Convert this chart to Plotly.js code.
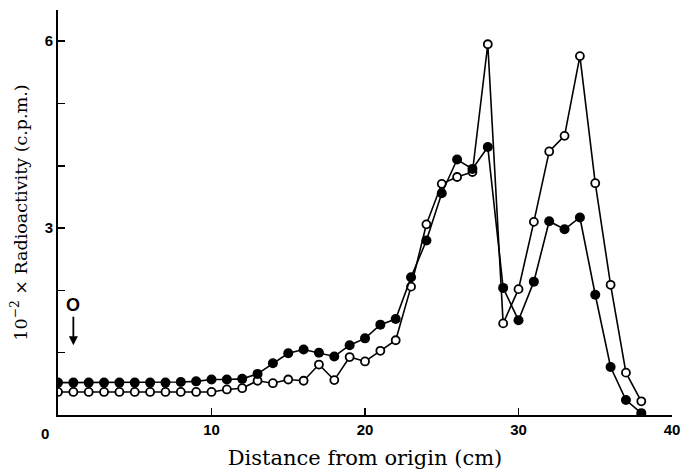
<!DOCTYPE html>
<html>
<head>
<meta charset="utf-8">
<script src="https://cdn.plot.ly/plotly-3.0.1.min.js"></script>
<style>html,body{margin:0;padding:0;background:#fff;}#chart{width:682px;height:472px;}</style>
</head>
<body>
<div id="chart"></div>
<script>
// Distance from origin (cm)
const distance = [0,1,2,3,4,5,6,7,8,9,10,11,12,13,14,15,16,17,18,19,20,21,22,23,24,25,26,27,28,29,30,31,32,33,34,35,36,37,38];
// Closed circles (10^-2 x c.p.m.)
const closedVals = [0.52,0.52,0.52,0.52,0.52,0.52,0.52,0.52,0.53,0.54,0.57,0.57,0.58,0.66,0.83,0.99,1.05,1.0,0.94,1.12,1.23,1.45,1.54,2.21,2.80,3.56,4.10,3.95,4.30,2.04,1.52,2.14,3.11,2.98,3.17,1.93,0.77,0.24,0.03];
// Open circles (10^-2 x c.p.m.)
const openVals = [0.37,0.37,0.37,0.37,0.37,0.37,0.37,0.37,0.37,0.37,0.37,0.41,0.43,0.55,0.51,0.57,0.55,0.81,0.56,0.93,0.86,1.03,1.20,2.06,3.06,3.71,3.82,3.90,5.95,1.47,2.02,3.10,4.23,4.48,5.76,3.72,2.09,0.68,0.22];
const yTickVals = [1,2,3,4,5,6];
const yTickText = [' ',' ','3',' ',' ','6'];
const xTickVals = [10,20,30,40];
const xTickText = ['10','20','30','40'];

const traces = [
  {
    x: distance, y: openVals, type: 'scatter', mode: 'lines+markers',
    line: {color: '#000', width: 1.6},
    marker: {symbol: 'circle', size: 8, color: '#fff', line: {color: '#000', width: 1.8}},
    hoverinfo: 'skip'
  },
  {
    x: distance, y: closedVals, type: 'scatter', mode: 'lines+markers',
    line: {color: '#000', width: 1.6},
    marker: {symbol: 'circle', size: 10, color: '#000'},
    hoverinfo: 'skip'
  }
];

const layout = {
  width: 682, height: 472,
  margin: {l: 58, r: 10, t: 10, b: 57},
  paper_bgcolor: '#fff', plot_bgcolor: '#fff',
  showlegend: false,
  font: {family: 'DejaVu Serif, serif', color: '#000'},
  xaxis: {
    range: [0, 40], showgrid: false, zeroline: false,
    showline: true, linecolor: '#000', linewidth: 2,
    ticks: 'inside', ticklen: 7, tickwidth: 1.5, tickcolor: '#000',
    tickvals: xTickVals, ticktext: xTickText,
    tickfont: {family: 'Liberation Sans, sans-serif', size: 15, color: '#000', weight: 'bold'},
    title: {text: 'Distance from origin (cm)', font: {family: 'DejaVu Serif, serif', size: 21, color: '#000'}, standoff: 13}
  },
  yaxis: {
    range: [0, 6.5], showgrid: false, zeroline: false,
    showline: true, linecolor: '#000', linewidth: 2,
    ticks: 'inside', ticklen: 7, tickwidth: 1.5, tickcolor: '#000',
    tickvals: yTickVals, ticktext: yTickText,
    tickfont: {family: 'Liberation Sans, sans-serif', size: 15, color: '#000', weight: 'bold'},
    title: {text: '10<sup>−2</sup> × Radioactivity (c.p.m.)', font: {family: 'DejaVu Serif, serif', size: 17.5, color: '#000'}, standoff: 13}
  },
  annotations: [
    {x: 1, y: 1.12, xref: 'x', yref: 'y', text: 'O', showarrow: true,
     arrowhead: 2, arrowsize: 1, arrowwidth: 1.8, arrowcolor: '#000',
     ax: 0, ay: -40, font: {family: 'Liberation Sans, sans-serif', size: 18, color: '#000', weight: 'bold'}},
    {x: 0, y: 0, xref: 'paper', yref: 'paper', text: '0', showarrow: false,
     xanchor: 'center', yanchor: 'middle',
     xshift: -13, yshift: -18, font: {family: 'Liberation Sans, sans-serif', size: 15, color: '#000', weight: 'bold'}}
  ]
};

Plotly.newPlot('chart', traces, layout, {staticPlot: true, displayModeBar: false});
</script>
</body>
</html>
